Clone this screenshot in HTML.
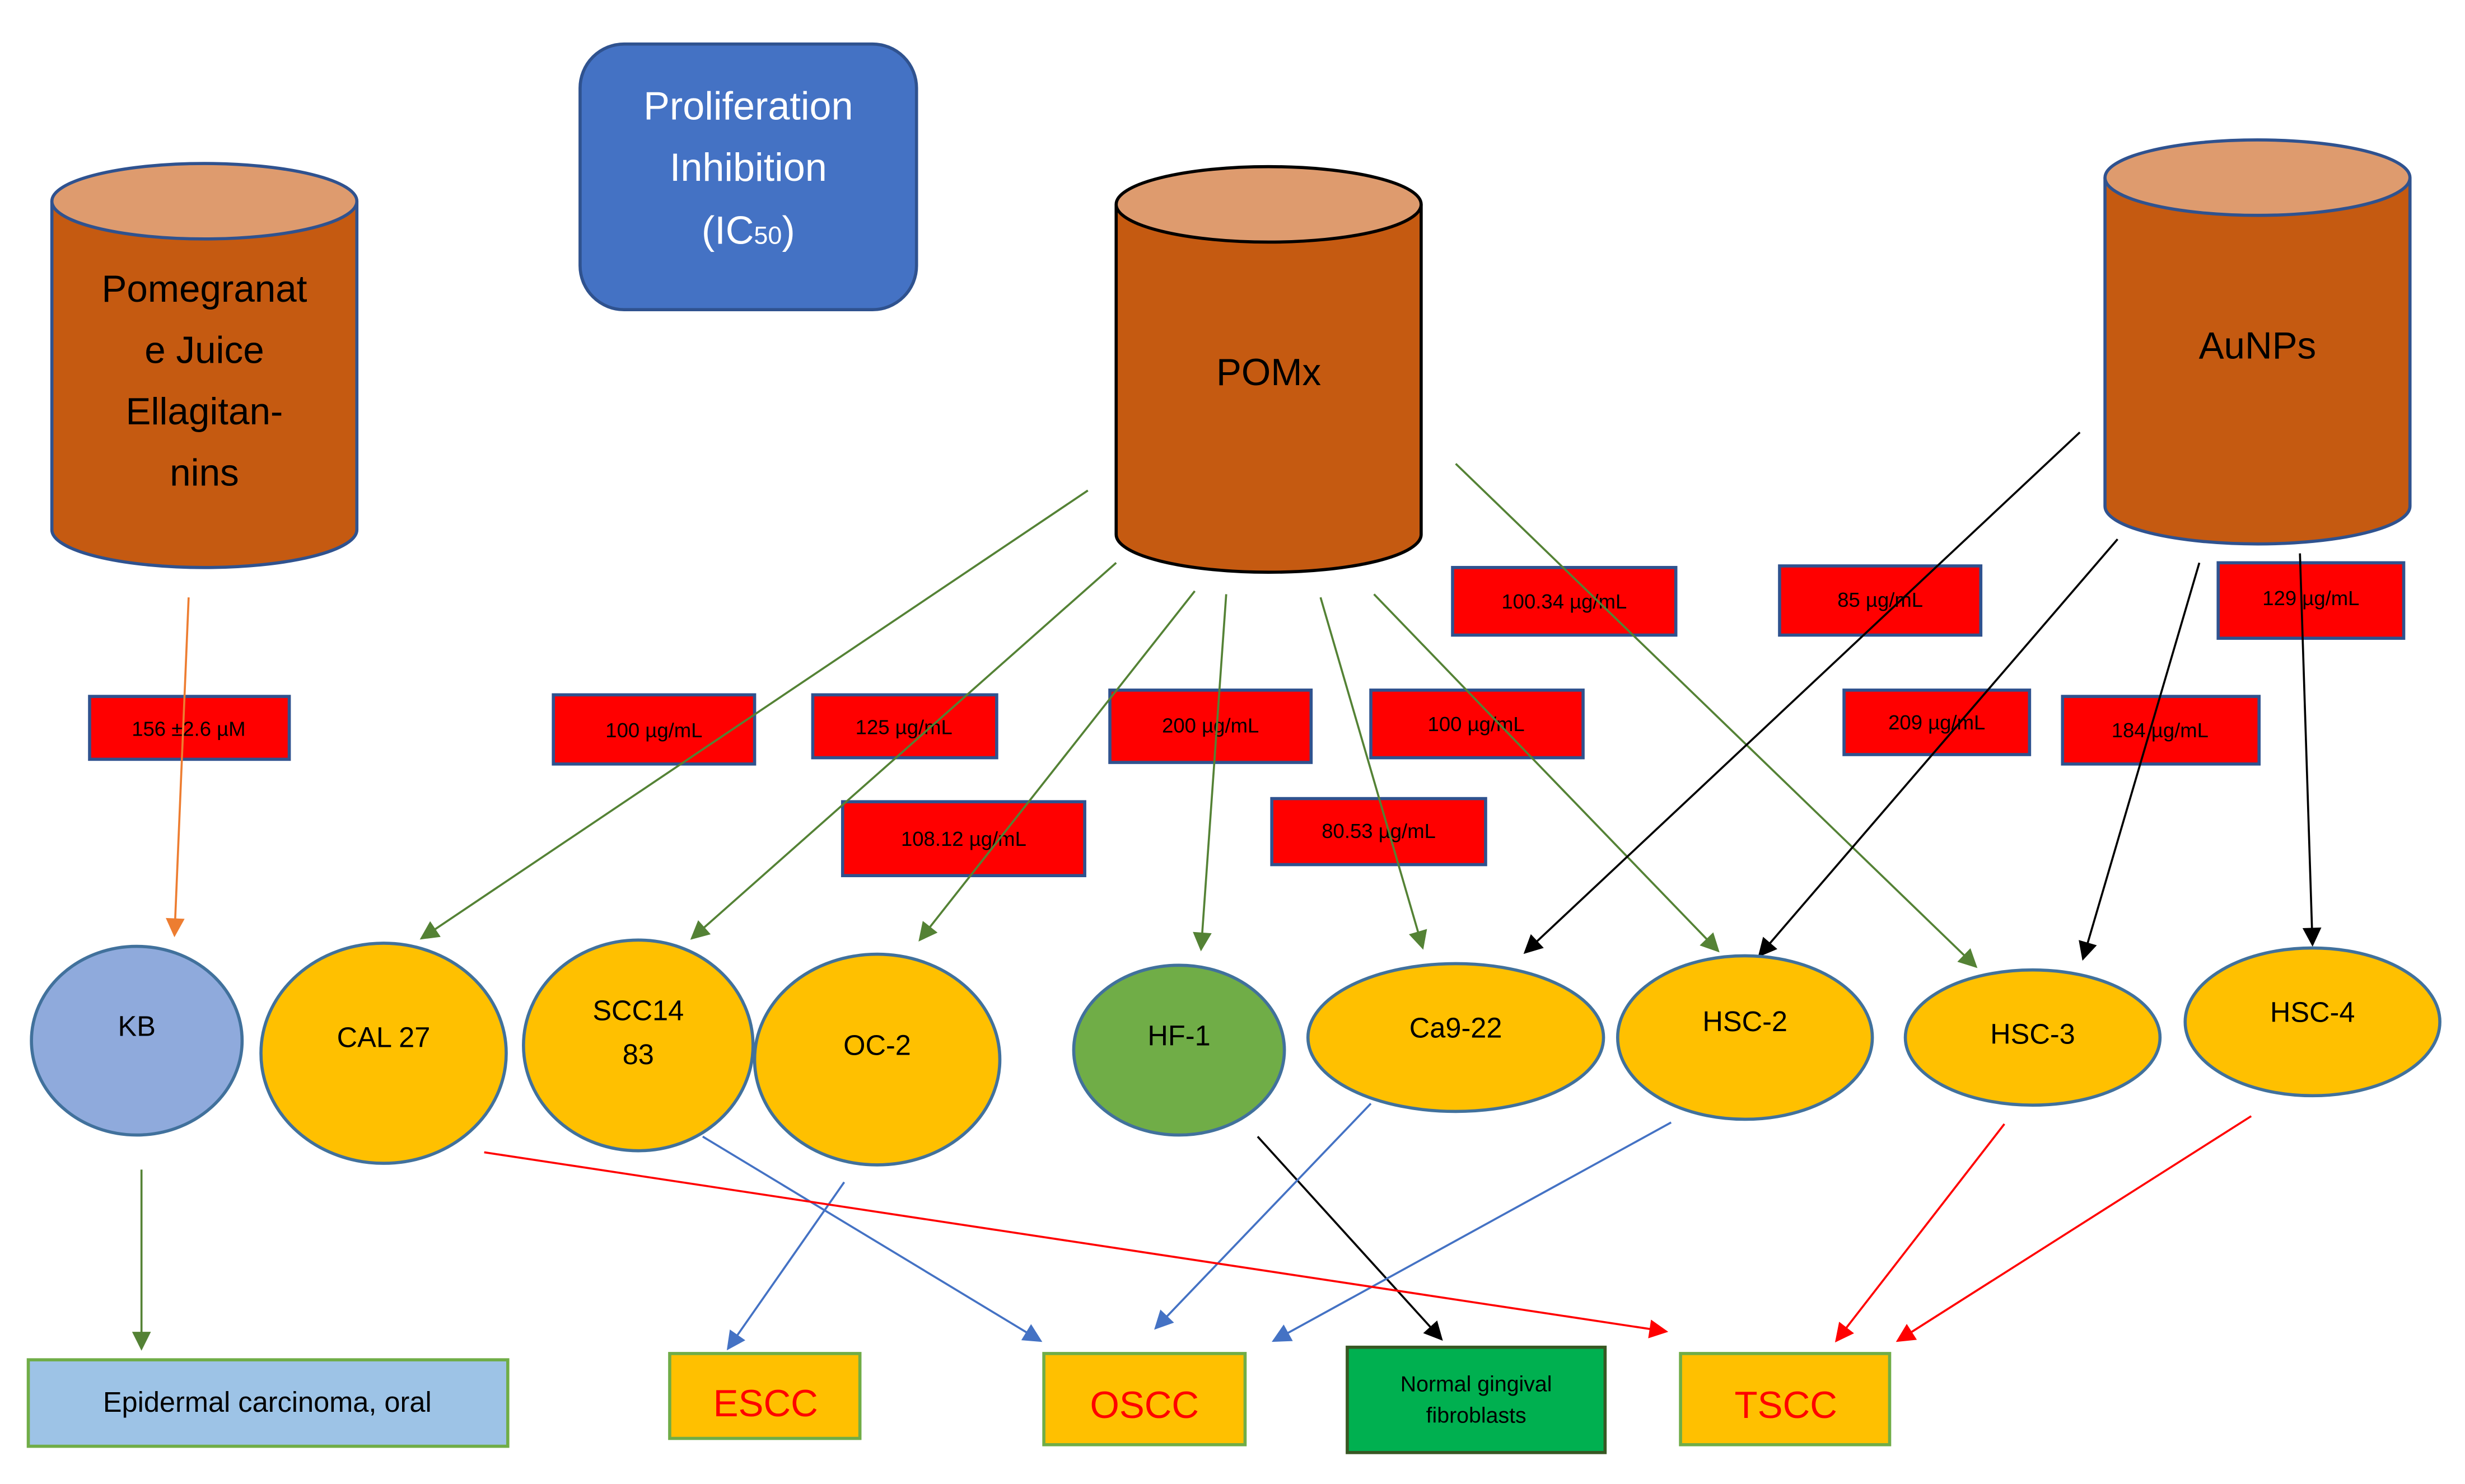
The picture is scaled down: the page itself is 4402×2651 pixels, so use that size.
<!DOCTYPE html>
<html><head><meta charset="utf-8"><style>html,body{margin:0;padding:0;background:#fff}svg{display:block}</style></head><body>
<svg width="4402" height="2651" viewBox="0 0 1568 944" preserveAspectRatio="none" xmlns="http://www.w3.org/2000/svg" font-family="Liberation Sans, sans-serif">
<defs>
<marker id="mg" viewBox="0 0 10 10" refX="9" refY="5" markerWidth="14" markerHeight="12" markerUnits="userSpaceOnUse" orient="auto"><path d="M0,0L10,5L0,10z" fill="#548235"/></marker>
<marker id="mk" viewBox="0 0 10 10" refX="9" refY="5" markerWidth="14" markerHeight="12" markerUnits="userSpaceOnUse" orient="auto"><path d="M0,0L10,5L0,10z" fill="#000"/></marker>
<marker id="mb" viewBox="0 0 10 10" refX="9" refY="5" markerWidth="14" markerHeight="12" markerUnits="userSpaceOnUse" orient="auto"><path d="M0,0L10,5L0,10z" fill="#4472C4"/></marker>
<marker id="mr" viewBox="0 0 10 10" refX="9" refY="5" markerWidth="14" markerHeight="12" markerUnits="userSpaceOnUse" orient="auto"><path d="M0,0L10,5L0,10z" fill="#f00"/></marker>
<marker id="mo" viewBox="0 0 10 10" refX="9" refY="5" markerWidth="14" markerHeight="12" markerUnits="userSpaceOnUse" orient="auto"><path d="M0,0L10,5L0,10z" fill="#ED7D31"/></marker>
</defs>
<!-- cylinders -->
<g stroke="#2F528F" stroke-width="2">
<path d="M33,128 V337 A97,24 0 0 0 227,337 V128" fill="#C55A11"/>
<ellipse cx="130" cy="128" rx="97" ry="24" fill="#DE9B6E"/>
</g>
<g stroke="#000" stroke-width="2">
<path d="M710,130 V340 A97,24 0 0 0 904,340 V130" fill="#C55A11"/>
<ellipse cx="807" cy="130" rx="97" ry="24" fill="#DE9B6E"/>
</g>
<g stroke="#2F528F" stroke-width="2">
<path d="M1339,113 V322 A97,24 0 0 0 1533,322 V113" fill="#C55A11"/>
<ellipse cx="1436" cy="113" rx="97" ry="24" fill="#DE9B6E"/>
</g>
<g font-size="24" fill="#000" text-anchor="middle">
<text x="130" y="192">Pomegranat</text><text x="130" y="231">e Juice</text><text x="130" y="270">Ellagitan-</text><text x="130" y="309">nins</text>
<text x="807" y="245">POMx</text>
<text x="1436" y="228">AuNPs</text>
</g>
<rect x="369" y="28" width="214" height="169" rx="28" fill="#4472C4" stroke="#2F528F" stroke-width="2"/>
<g font-size="25" fill="#fff" text-anchor="middle"><text x="476" y="76">Proliferation</text><text x="476" y="115">Inhibition</text><text x="476" y="155">(IC<tspan font-size="16">50</tspan>)</text></g>
<!-- red boxes -->
<g fill="#f00" stroke="#2F528F" stroke-width="2">
<rect x="57" y="443" width="127" height="40"/><rect x="352" y="442" width="128" height="44"/><rect x="517" y="442" width="117" height="40"/><rect x="536" y="510" width="154" height="47"/><rect x="706" y="439" width="128" height="46"/><rect x="809" y="508" width="136" height="42"/><rect x="872" y="439" width="135" height="43"/><rect x="924" y="361" width="142" height="43"/><rect x="1132" y="360" width="128" height="44"/><rect x="1173" y="439" width="118" height="41"/><rect x="1312" y="443" width="125" height="43"/><rect x="1411" y="358" width="118" height="48"/>
</g>
<g font-size="13" fill="#000" text-anchor="middle">
<text x="120" y="468">156 ±2.6 µM</text><text x="416" y="469">100 µg/mL</text><text x="575" y="467">125 µg/mL</text><text x="613" y="538">108.12 µg/mL</text><text x="770" y="466">200 µg/mL</text><text x="877" y="533">80.53 µg/mL</text><text x="939" y="465">100 µg/mL</text><text x="995" y="387">100.34 µg/mL</text><text x="1196" y="386">85 µg/mL</text><text x="1232" y="464">209 µg/mL</text><text x="1374" y="469">184 µg/mL</text><text x="1470" y="385">129 µg/mL</text>
</g>
<!-- arrows -->
<g stroke-width="1.3" fill="none">
<line x1="120" y1="380" x2="111" y2="595" stroke="#ED7D31" marker-end="url(#mo)"/>
<g stroke="#548235" marker-end="url(#mg)">
<line x1="692" y1="312" x2="268" y2="597"/><line x1="710" y1="358" x2="440" y2="597"/><line x1="760" y1="376" x2="585" y2="598"/><line x1="780" y1="378" x2="764" y2="604"/><line x1="840" y1="380" x2="905" y2="603"/><line x1="874" y1="378" x2="1093" y2="605"/><line x1="926" y1="295" x2="1257" y2="615"/><line x1="90" y1="744" x2="90" y2="858"/>
</g>
<g stroke="#000" marker-end="url(#mk)">
<line x1="1323" y1="275" x2="970" y2="606"/><line x1="1347" y1="343" x2="1119" y2="608"/><line x1="1399" y1="358" x2="1325" y2="610"/><line x1="1463" y1="352" x2="1471" y2="601"/><line x1="800" y1="723" x2="917" y2="852"/>
</g>
<g stroke="#4472C4" marker-end="url(#mb)">
<line x1="447" y1="723" x2="662" y2="853"/><line x1="537" y1="752" x2="463" y2="858"/><line x1="872" y1="702" x2="735" y2="845"/><line x1="1063" y1="714" x2="810" y2="853"/>
</g>
<g stroke="#f00" marker-end="url(#mr)">
<line x1="308" y1="733" x2="1060" y2="847"/><line x1="1275" y1="715" x2="1168" y2="853"/><line x1="1432" y1="710" x2="1207" y2="853"/>
</g>
</g>
<!-- ellipses -->
<g stroke="#41719C" stroke-width="2">
<ellipse cx="87" cy="662" rx="67" ry="60" fill="#8FAADC"/>
<ellipse cx="244" cy="670" rx="78" ry="70" fill="#FFC000"/>
<ellipse cx="406" cy="665" rx="73" ry="67" fill="#FFC000"/>
<ellipse cx="558" cy="674" rx="78" ry="67" fill="#FFC000"/>
<ellipse cx="750" cy="668" rx="67" ry="54" fill="#70AD47"/>
<ellipse cx="926" cy="660" rx="94" ry="47" fill="#FFC000"/>
<ellipse cx="1110" cy="660" rx="81" ry="52" fill="#FFC000"/>
<ellipse cx="1293" cy="660" rx="81" ry="43" fill="#FFC000"/>
<ellipse cx="1471" cy="650" rx="81" ry="47" fill="#FFC000"/>
</g>
<g font-size="18" fill="#000" text-anchor="middle">
<text x="87" y="659">KB</text><text x="244" y="666">CAL 27</text><text x="406" y="649">SCC14</text><text x="406" y="677">83</text><text x="558" y="671">OC-2</text><text x="750" y="665">HF-1</text><text x="926" y="660">Ca9-22</text><text x="1110" y="656">HSC-2</text><text x="1293" y="664">HSC-3</text><text x="1471" y="650">HSC-4</text>
</g>
<!-- bottom boxes -->
<rect x="18" y="865" width="305" height="55" fill="#9DC3E6" stroke="#70AD47" stroke-width="2"/>
<rect x="426" y="861" width="121" height="54" fill="#FFC000" stroke="#70AD47" stroke-width="2"/>
<rect x="664" y="861" width="128" height="58" fill="#FFC000" stroke="#70AD47" stroke-width="2"/>
<rect x="857" y="857" width="164" height="67" fill="#00B050" stroke="#385723" stroke-width="2"/>
<rect x="1069" y="861" width="133" height="58" fill="#FFC000" stroke="#70AD47" stroke-width="2"/>
<g text-anchor="middle">
<text x="170" y="898" font-size="18" fill="#000">Epidermal carcinoma, oral</text>
<text x="487" y="901" font-size="24" fill="#f00">ESCC</text>
<text x="728" y="902" font-size="24" fill="#f00">OSCC</text>
<text x="939" y="885" font-size="14" fill="#000">Normal gingival</text>
<text x="939" y="905" font-size="14" fill="#000">fibroblasts</text>
<text x="1136" y="902" font-size="24" fill="#f00">TSCC</text>
</g>
</svg>
</body></html>
